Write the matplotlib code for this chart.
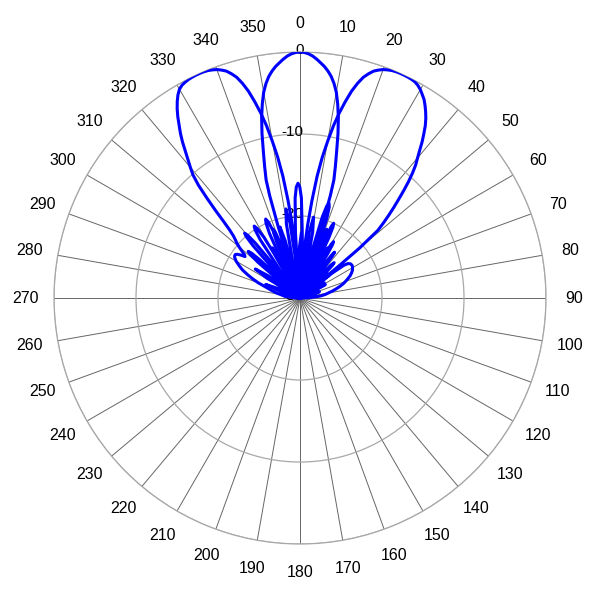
import matplotlib
matplotlib.use("Agg")
import matplotlib.pyplot as plt
import numpy as np

plt.rcParams['font.family'] = ['Liberation Sans', 'DejaVu Sans']

# gain pattern as (angle in degrees clockwise from top, level in dB)
# beam pointing straight ahead
beam_mid = [
    (-90, -30), (-80, -30), (-75.2, -29.3), (-72, -27.5), (-68.8, -29.3), (-64, -30),
    (-60.4, -28.3), (-58, -26.5), (-55.6, -28.3), (-52, -30), (-49, -27.3), (-47, -25.5),
    (-45, -27.3), (-42, -30), (-39.3, -26.8), (-38.4, -25.45), (-37.5, -25), (-36.6, -25.45),
    (-35.7, -26.8), (-33, -30), (-31.6, -29), (-30.6, -24.8), (-29.8, -23.45), (-29, -23),
    (-28.2, -23.45), (-27.4, -24.8), (-26.4, -29), (-25, -30), (-23.75, -27), (-22.75, -22.8),
    (-22, -21.45), (-21.25, -21), (-20.5, -21.45), (-19.75, -22.8), (-18.75, -27), (-17.5, -30),
    (-17, -21), (-16.5, -17), (-16, -15), (-15, -13.3), (-14, -11.5), (-13, -9.4), (-12, -7.5),
    (-11, -5.9), (-10, -4.5), (-9, -3.5), (-8, -2.7), (-7, -2.1), (-6, -1.6), (-5, -1.2),
    (-4, -0.8), (-3, -0.45), (-2, -0.2), (-1, -0.05), (0, 0), (1, -0.05), (2, -0.2), (3, -0.45),
    (4, -0.8), (5, -1.2), (6, -1.6), (7, -2.1), (8, -2.7), (9, -3.5), (10, -4.5), (11, -5.9),
    (12, -7.5), (13, -9.4), (14, -11.5), (15, -13.3), (16, -15), (16.5, -17), (17, -21),
    (17.5, -30), (18.75, -27), (19.75, -22.8), (20.5, -21.45), (21.25, -21), (22, -21.45),
    (22.75, -22.8), (23.75, -27), (25, -30), (26.4, -29), (27.4, -24.8), (28.2, -23.45),
    (29, -23), (29.8, -23.45), (30.6, -24.8), (31.6, -29), (33, -30), (35.7, -26.8),
    (36.6, -25.45), (37.5, -25), (38.4, -25.45), (39.3, -26.8), (42, -30), (45, -27.3),
    (47, -25.5), (49, -27.3), (52, -30), (55.6, -28.3), (58, -26.5), (60.4, -28.3), (64, -30),
    (68.8, -29.3), (72, -27.5), (75.2, -29.3), (80, -30), (90, -30),
]

# beam steered to the right
beam_right = [
    (-90, -30), (-86, -29.3), (-82, -28), (-78, -29.3), (-75, -30), (-71.1, -27.3),
    (-68.5, -25.5), (-65.9, -27.3), (-62, -30), (-60.3, -29.5), (-59, -25.3), (-57, -23.5),
    (-55, -25.3), (-53.7, -29.5), (-52, -30), (-50.64, -27.5), (-49.6, -23.3), (-48.8, -21.95),
    (-48, -21.5), (-47.2, -21.95), (-46.4, -23.3), (-45.36, -27.5), (-44, -30), (-43.3, -29.8),
    (-42.8, -25.6), (-41.9, -21.4), (-41.2, -20.05), (-40.5, -19.6), (-39.8, -20.05),
    (-39.1, -21.4), (-38.2, -25.6), (-37.7, -29.8), (-37, -30), (-36.1, -29.8), (-35.47, -25.6),
    (-34.3, -21.4), (-33.4, -20.05), (-32.5, -19.6), (-31.6, -20.05), (-30.7, -21.4),
    (-29.53, -25.6), (-28.9, -29.8), (-28, -30), (-27.1, -29.7), (-26.47, -25.5), (-25.3, -21.3),
    (-24.4, -19.95), (-23.5, -19.5), (-22.6, -19.95), (-21.7, -21.3), (-20.53, -25.5),
    (-19.9, -29.7), (-19, -30), (-17.9, -27), (-17.05, -22.8), (-15.75, -21), (-14.45, -22.8),
    (-13.6, -27), (-12.5, -30), (-11.3, -25), (-10.4, -20.8), (-9, -19), (-7.6, -20.8),
    (-6.7, -25), (-5.5, -30), (-4.6, -26.2), (-3.97, -22), (-2.8, -17.8), (-1.9, -16.45),
    (-1, -16), (-0.1, -16.45), (0.8, -17.8), (1.97, -22), (2.6, -26.2), (3.5, -30),
    (4, -27), (5, -24), (6, -21), (7, -18), (8, -15), (9, -12.6), (10, -10.6), (11, -8.6),
    (12, -6.9), (13, -5.4), (14, -4.0), (15, -2.9), (16, -2.0), (17, -1.4), (18, -0.9),
    (19, -0.6), (20, -0.35), (21, -0.2), (22, -0.08), (23, -0.02), (24, 0), (25, 0),
    (26, -0.02), (27, -0.06), (28, -0.15), (29, -0.35), (30, -0.65), (31, -1.05), (32, -1.45),
    (33, -2.0), (34, -2.6), (35, -3.25), (36, -4.0), (37, -4.9), (38, -5.8), (39, -6.8),
    (40, -7.7), (41, -8.5), (42, -9.5), (43, -10.6), (44, -11.8), (45, -13.0), (46, -14.1),
    (47, -15.2), (48, -16.3), (49, -17.4), (50, -20.5), (50.5, -24), (51, -30),
    (52.3, -25), (53.3, -23.3), (54.3, -22.8), (56, -22.55), (58, -22.5), (60, -22.6),
    (62, -22.75), (64, -23.0), (66, -23.3), (68, -23.7), (70, -24.1), (72, -24.5), (74, -25),
    (76, -25.5), (78, -26), (80, -26.5), (82, -26.9), (84, -27.4), (86, -28.2), (88, -29.1),
    (90, -30),
]

# beam steered to the left
beam_left = [
    (-90, -30), (-87, -29.2), (-84, -28.5), (-81, -27.8), (-78, -27.1), (-75, -26.4),
    (-72, -25.5), (-70, -24.6), (-68, -23.8), (-66, -23), (-64, -22.2), (-62, -21.6),
    (-60, -21.0), (-59, -20.8), (-58, -20.6), (-57, -20.5), (-56, -20.5), (-55, -20.7),
    (-54, -21.1), (-53, -21.6), (-52, -21.4), (-51, -20.9), (-50, -20.3), (-49, -19.8),
    (-48, -19.4), (-47, -18.9), (-46, -18.1), (-45, -16.9), (-44, -15.2), (-43, -13.4),
    (-42, -11.5), (-41, -10.1), (-40, -9.2), (-39, -8.3), (-38, -7.3), (-37, -6.2),
    (-36, -5.2), (-35, -4.3), (-34, -3.35), (-33, -2.5), (-32, -1.75), (-31, -1.1),
    (-30, -0.6), (-29, -0.32), (-28, -0.18), (-27, -0.08), (-26, -0.03), (-25, 0), (-24, 0),
    (-23, -0.02), (-22, -0.08), (-21, -0.2), (-20, -0.35), (-19, -0.6), (-18, -0.9),
    (-17, -1.4), (-16, -2.0), (-15, -2.9), (-14, -4.0), (-13, -5.4), (-12, -6.9), (-11, -8.6),
    (-10, -10.6), (-9, -12.6), (-8, -15), (-7, -18), (-6, -21), (-5, -24), (-4, -27),
    (-3.5, -30), (-1.9, -28), (-0.65, -23.8), (1.25, -22), (3.15, -23.8), (4.4, -28), (6, -30),
    (7.2, -26), (8.1, -21.8), (9.5, -20), (10.9, -21.8), (11.8, -26), (13, -30), (13.8, -28.1),
    (14.36, -23.9), (15.4, -19.7), (16.2, -18.35), (17, -17.9), (17.8, -18.35), (18.6, -19.7),
    (19.64, -23.9), (20.2, -28.1), (21, -30), (22.1, -26), (22.95, -21.8), (23.6, -20.45),
    (24.25, -20), (24.9, -20.45), (25.55, -21.8), (26.4, -26), (27.5, -30), (28.6, -28),
    (29.45, -23.8), (30.1, -22.45), (30.75, -22), (31.4, -22.45), (32.05, -23.8), (32.9, -28),
    (34, -30), (35, -29), (35.8, -24.8), (36.4, -23.45), (37, -23), (37.6, -23.45),
    (38.2, -24.8), (39, -29), (40, -30), (42.4, -25.8), (43.2, -24.45), (44, -24),
    (44.8, -24.45), (45.6, -25.8), (48, -30), (50.4, -27.3), (52, -25.5), (53.6, -27.3),
    (56, -30), (59.6, -28.3), (62, -26.5), (64.4, -28.3), (68, -30), (74, -29.5), (78, -28),
    (83, -29.3), (90, -30),
]

theta_ticks = np.arange(0, 360, 10)
r_ticks = [-30, -20, -10, 0]

fig = plt.figure(figsize=(6, 6), dpi=100)
ax = fig.add_axes([0.09, 0.0933, 0.82, 0.82], projection='polar')
ax.set_theta_zero_location('N')
ax.set_theta_direction(-1)
ax.set_axisbelow(True)

for beam in [beam_mid, beam_right, beam_left]:
    ang, db = zip(*beam)
    ax.plot(np.deg2rad(ang), db, color='#0000ff', lw=2.2,
            solid_joinstyle='round', zorder=3)

ax.set_rlim(-30, 0)
ax.set_rticks(r_ticks)
ax.set_yticklabels([])
# radial labels sit on the 0 degree spoke, just left of it
for r in r_ticks:
    ax.annotate(str(r), xy=(0, r), xytext=(2.5, 1.5), textcoords='offset points',
                ha='right', va='center', fontsize=11, zorder=1)

ax.set_xticks(np.deg2rad(theta_ticks))
ax.set_xticklabels([str(t) for t in theta_ticks], fontsize=11.5)
ax.tick_params(axis='x', pad=10)

ax.xaxis.grid(True, color='#666666', lw=0.7)
ax.yaxis.grid(True, color='#a8a8a8', lw=0.9)
ax.spines['polar'].set_color('#a8a8a8')
ax.spines['polar'].set_linewidth(0.9)

fig.savefig('out.png', dpi=100)
